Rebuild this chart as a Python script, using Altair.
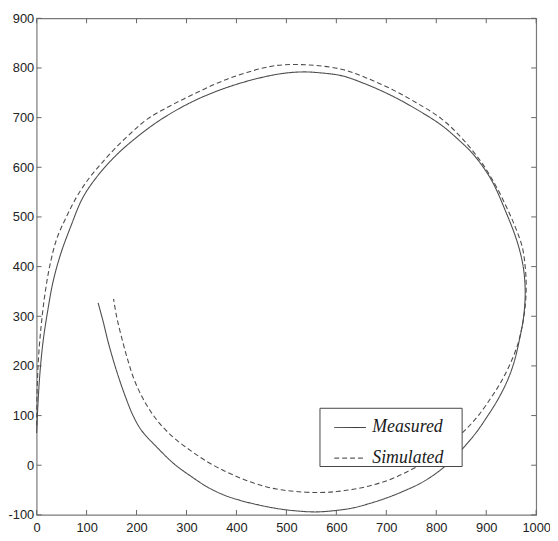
import altair as alt
import pandas as pd

# Measured trajectory (travel order)
meas_x = [0, 3, 7, 13, 22, 33, 48, 68, 92, 120, 155, 190, 250, 322, 400, 480, 530, 570, 612, 660,
          711, 760, 810, 845, 875, 910, 941, 962, 974, 978, 975, 968, 955, 940, 922, 902, 880, 855,
          829, 800, 769, 735, 703, 670, 633, 600, 560, 520, 480, 440, 408, 375, 342, 310, 276, 240,
          210, 193, 177, 160, 144, 133, 123]
meas_y = [65, 130, 190, 250, 310, 370, 425, 480, 538, 580, 620, 652, 697, 737, 767, 787, 792, 790, 784, 767,
          744, 717, 685, 655, 625, 575, 506, 450, 400, 350, 300, 260, 205, 165, 130, 98, 66, 36,
          8, -16, -36, -52, -65, -76, -86, -91, -94, -92, -87, -79, -71, -60, -44, -23, 2, 37,
          70, 100, 140, 190, 245, 290, 327]

# Simulated trajectory (travel order)
sim_x = [0, 1, 4, 9, 16, 26, 40, 59, 80, 105, 130, 157, 190, 223, 270, 322, 370, 421, 480, 546,
         612, 660, 711, 760, 810, 850, 889, 918, 941, 958, 972, 978, 980, 978, 972, 962, 946, 928,
         909, 885, 862, 832, 803, 772, 740, 707, 672, 637, 600, 565, 520, 480, 441, 408, 375, 340,
         309, 275, 243, 218, 197, 183, 171, 160, 154]
sim_y = [80, 150, 220, 280, 340, 400, 455, 499, 540, 578, 608, 638, 670, 698, 725, 751, 773, 791, 805, 806,
         797, 780, 757, 730, 698, 660, 612, 565, 519, 480, 440, 400, 360, 320, 280, 240, 200, 165,
         135, 101, 75, 46, 23, 3, -14, -29, -40, -48, -53, -55, -53, -48, -38, -26, -11, 8,
         29, 55, 88, 125, 168, 210, 254, 300, 335]

series = ["Measured", "Simulated"]
x_ticks = [0, 100, 200, 300, 400, 500, 600, 700, 800, 900, 1000]
y_ticks = [-100, 0, 100, 200, 300, 400, 500, 600, 700, 800, 900]

rows = []
for i, (x, y) in enumerate(zip(meas_x, meas_y)):
    rows.append({"x": x, "y": y, "s": "Measured", "i": i})
for i, (x, y) in enumerate(zip(sim_x, sim_y)):
    rows.append({"x": x, "y": y, "s": "Simulated", "i": i})
df = pd.DataFrame(rows)

W, H = 506, 503
xs = alt.Scale(domain=[0, 1000], nice=False, zero=False)
ys = alt.Scale(domain=[-100, 900], nice=False, zero=False)
label_font = "Liberation Sans"
num_expr = "datum.value < 0 ? '-' + abs(datum.value) : '' + datum.value"

lines = alt.Chart(df).mark_line(color="#4d4d4d", strokeWidth=1.1, interpolate="catmull-rom").encode(
    x=alt.X("x:Q", scale=xs, axis=alt.Axis(values=x_ticks, title=None, ticks=False, tickSize=0,
                                             domain=False, grid=False, labelPadding=7,
                                             labelFlush=False, labelOverlap=False,
                                             labelExpr=num_expr,
                                             labelFont=label_font, labelFontSize=13,
                                             labelColor="#222222")),
    y=alt.Y("y:Q", scale=ys, axis=alt.Axis(values=y_ticks, title=None, ticks=False, tickSize=0,
                                             domain=False, grid=False, labelPadding=3,
                                             labelFlush=False, labelOverlap=False,
                                             labelExpr=num_expr,
                                             labelFont=label_font, labelFontSize=13,
                                             labelColor="#222222")),
    order="i:Q",
    strokeDash=alt.StrokeDash(
        "s:N",
        scale=alt.Scale(domain=series, range=[[1, 0], [5, 3]]),
        legend=alt.Legend(
            title=None, orient="none", legendX=301, legendY=398,
            symbolType="stroke", symbolSize=1024, symbolStrokeWidth=1,
            symbolStrokeColor="#333333", symbolOffset=0,
            labelFont="Liberation Serif", labelFontStyle="italic", labelFontSize=18,
            labelColor="#1a1a1a", labelOffset=6,
            padding=0, rowPadding=5, strokeColor="transparent", fillColor="transparent",
            cornerRadius=0,
        ),
    ),
)

# white legend frame drawn over the curves
frame = alt.Chart(pd.DataFrame({"k": [0]})).mark_rect(
    fill="white", stroke="#444444", strokeWidth=1
).encode(x=alt.value(287), x2=alt.value(431), y=alt.value(395), y2=alt.value(454))

xt = pd.DataFrame({"t": x_ticks})
yt = pd.DataFrame({"t": y_ticks})
tick_color = "#666666"
bottom_ticks = alt.Chart(xt).mark_rule(color=tick_color).encode(
    x=alt.X("t:Q", scale=xs), y=alt.value(H), y2=alt.value(H - 5))
top_ticks = alt.Chart(xt).mark_rule(color=tick_color).encode(
    x=alt.X("t:Q", scale=xs), y=alt.value(0), y2=alt.value(5))
left_ticks = alt.Chart(yt).mark_rule(color=tick_color).encode(
    y=alt.Y("t:Q", scale=ys), x=alt.value(0), x2=alt.value(5))
right_ticks = alt.Chart(yt).mark_rule(color=tick_color).encode(
    y=alt.Y("t:Q", scale=ys), x=alt.value(W), x2=alt.value(W - 5))

chart = alt.layer(bottom_ticks, top_ticks, left_ticks, right_ticks, lines, frame).properties(
    width=W, height=H,
    autosize=alt.AutoSizeParams(type="none"),
    padding={"left": 29, "top": 7, "right": 14, "bottom": 22},
    background="white",
).configure_view(stroke="#7a7a7a", strokeWidth=1.2)

chart.save("out.html", embed_options={"renderer": "svg", "actions": False})
